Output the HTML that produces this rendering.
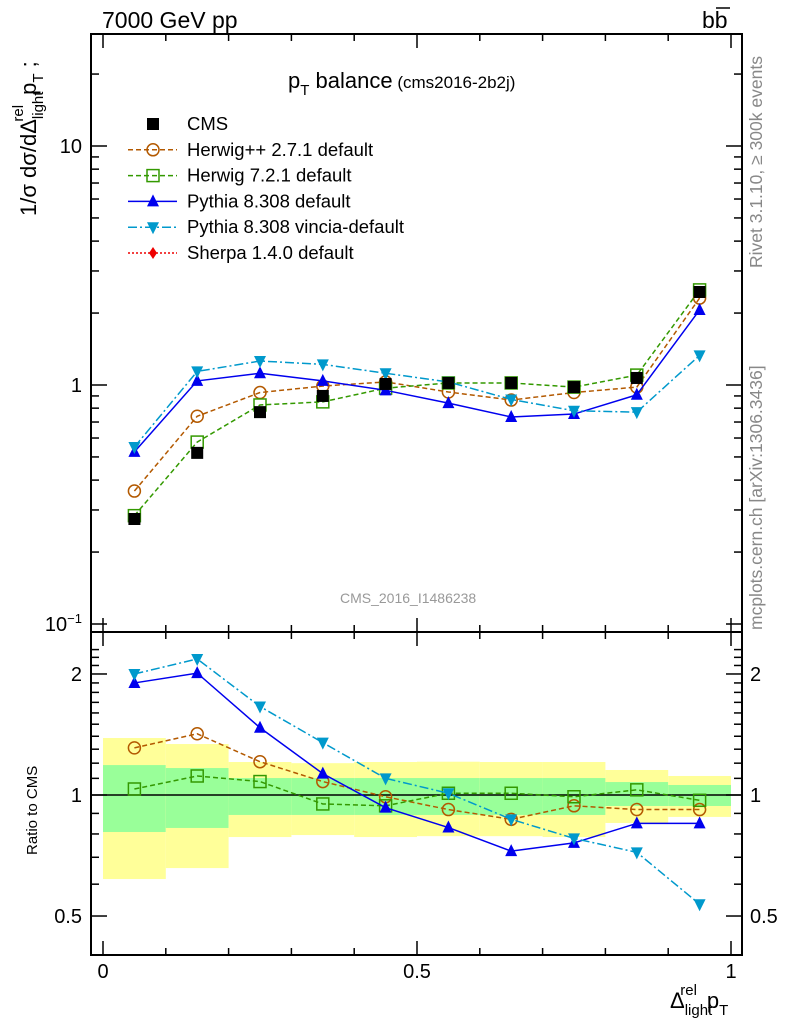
<!DOCTYPE html>
<html><head><meta charset="utf-8"><style>
body{margin:0;background:#fff;}
svg{display:block;font-family:"Liberation Sans",sans-serif;}
</style></head><body>
<svg id="c" width="786" height="1024" viewBox="0 0 786 1024">
<g id="bands"></g>
<g id="ticks"></g>
<g id="series"></g>
<rect x="91" y="34" width="651" height="598" fill="none" stroke="#000" stroke-width="2"/>
<rect x="91" y="632" width="651" height="323" fill="none" stroke="#000" stroke-width="2"/>
<text x="102" y="28" font-size="23">7000 GeV pp</text>
<text x="702" y="28" font-size="23">bb</text>
<line x1="716" y1="8" x2="730" y2="8" stroke="#000" stroke-width="1.5"/>
<text x="288" y="88" font-size="22">p<tspan font-size="15" dy="7">T</tspan><tspan dy="-7"> balance</tspan><tspan font-size="17"> (cms2016-2b2j)</tspan></text>
<text x="340" y="603" font-size="14" fill="#999">CMS_2016_I1486238</text>
<text transform="translate(762,268) rotate(-90)" font-size="17.5" fill="#888">Rivet 3.1.10, ≥ 300k events</text>
<text transform="translate(762,630) rotate(-90)" font-size="17.5" fill="#888">mcplots.cern.ch [arXiv:1306.3436]</text>
<text transform="translate(36,216) rotate(-90)" font-size="22">1/σ dσ/dΔ<tspan font-size="15" dy="7">light</tspan><tspan font-size="15" dy="-20" dx="-30">rel</tspan><tspan dy="13" dx="10">p</tspan><tspan font-size="15" dy="7">T</tspan><tspan dy="-7"> ;</tspan></text>
<text transform="translate(37,855) rotate(-90)" font-size="15">Ratio to CMS</text>
<text x="670" y="1008" font-size="22">Δ<tspan font-size="15" dy="7">light</tspan><tspan font-size="15" dy="-20" dx="-32">rel</tspan><tspan dy="13" dx="10">p</tspan><tspan font-size="15" dy="7">T</tspan></text>
<g id="legend"></g>
</svg>
<script>
const xEdges=[0,0.1,0.2,0.3,0.4,0.5,0.6,0.7,0.8,0.9,1.0];
const xCenters=[0.05,0.15,0.25,0.35,0.45,0.55,0.65,0.75,0.85,0.95];
const cmsVals=[0.275,0.52,0.77,0.90,1.01,1.02,1.02,0.98,1.07,2.45];
const herwigppVals=[0.36,0.74,0.93,0.99,1.03,0.935,0.865,0.93,0.98,2.31];
const herwig7Vals=[0.284,0.577,0.825,0.85,0.97,1.02,1.02,0.98,1.10,2.5];
const pythiaVals=[0.525,1.04,1.12,1.04,0.95,0.84,0.735,0.756,0.91,2.06];
const vinciaVals=[0.55,1.14,1.26,1.22,1.12,1.03,0.87,0.78,0.77,1.33];
const herwigppRatio=[1.31,1.42,1.21,1.08,0.99,0.92,0.87,0.94,0.92,0.92];
const herwig7Ratio=[1.035,1.115,1.08,0.95,0.94,1.01,1.01,0.99,1.03,0.97];
const pythiaRatio=[1.90,2.01,1.47,1.13,0.93,0.83,0.725,0.76,0.85,0.85];
const vinciaRatio=[2.0,2.18,1.66,1.35,1.10,1.01,0.87,0.78,0.72,0.535];
const totUp=[1.386,1.339,1.208,1.20,1.208,1.21,1.208,1.208,1.154,1.115];
const totDn=[0.618,0.658,0.786,0.795,0.786,0.79,0.79,0.786,0.852,0.882];
const statUp=[1.187,1.167,1.102,1.102,1.102,1.102,1.102,1.102,1.077,1.059];
const statDn=[0.809,0.828,0.892,0.892,0.892,0.892,0.892,0.892,0.939,0.939];
const xTicks=[0,0.5,1];
const xTickLabels=["0","0.5","1"];
const ratioTicks=[0.5,1,2];
const ratioTickLabels=["0.5","1","2"];

const NS="http://www.w3.org/2000/svg";
const X=v=>103+628*v;
const Y=v=>385-239*Math.log10(v);
const R=v=>795-402*Math.log10(v);
function mk(p,t,a){const e=document.createElementNS(NS,t);for(const k in a)e.setAttribute(k,a[k]);p.appendChild(e);return e;}
const bands=document.getElementById('bands'),ticks=document.getElementById('ticks'),ser=document.getElementById('series'),leg=document.getElementById('legend');
for(let i=0;i<10;i++){
 let r=mk(bands,'rect',{x:X(xEdges[i]),y:R(totUp[i]),width:X(xEdges[i+1])-X(xEdges[i]),height:R(totDn[i])-R(totUp[i]),fill:'#ffff99'});
 
 let g=mk(bands,'rect',{x:X(xEdges[i]),y:R(statUp[i]),width:X(xEdges[i+1])-X(xEdges[i]),height:R(statDn[i])-R(statUp[i]),fill:'#99ff99'});
 
}
mk(bands,'line',{x1:91,x2:742,y1:R(1),y2:R(1),stroke:'#000','stroke-width':1.5});
for(let k=0;k<=20;k++){const v=k*0.05;const maj=(k%10==0);const L=maj?14:7;
 if(k%2) continue;
 for(const [yb,dir] of [[632,-1],[34,1],[955,-1],[632,1]]){mk(ticks,'line',{x1:X(v),x2:X(v),y1:yb,y2:yb+dir*L,stroke:'#000','stroke-width':1.5});}}
xTicks.forEach((v,i)=>{const t=mk(ticks,'text',{x:X(v),y:978,'font-size':20,'text-anchor':'middle'});t.textContent=xTickLabels[i];
 });
for(let d=-1;d<=1;d++)for(let m=1;m<=9;m++){const v=m*Math.pow(10,d);const y=Y(v);if(y<34||y>632)continue;const L=m==1?16:8;
 mk(ticks,'line',{x1:91,x2:91+L,y1:y,y2:y,stroke:'#000','stroke-width':1.5});mk(ticks,'line',{x1:742,x2:742-L,y1:y,y2:y,stroke:'#000','stroke-width':1.5});}
[[10,"10"],[1,"1"]].forEach(([v,s])=>{const t=mk(ticks,'text',{x:82,y:Y(v)+7,'font-size':20,'text-anchor':'end'});t.textContent=s;
 });
{const t=mk(ticks,'text',{x:82,y:Y(0.1)+7,'font-size':20,'text-anchor':'end'});t.innerHTML='10<tspan font-size="13" dy="-8">−1</tspan>';
 }
for(let k=4;k<=23;k++){const v=k/10;const y=R(v);if(y<634||y>953)continue;const maj=(v==0.5||v==1||v==2);const L=maj?16:8;
 mk(ticks,'line',{x1:91,x2:91+L,y1:y,y2:y,stroke:'#000','stroke-width':1.5});mk(ticks,'line',{x1:742,x2:742-L,y1:y,y2:y,stroke:'#000','stroke-width':1.5});}
ratioTicks.forEach((v,i)=>{for(const [x,a] of [[82,'end'],[750,'start']]){const t=mk(ticks,'text',{x:x,y:R(v)+7,'font-size':20,'text-anchor':a});t.textContent=ratioTickLabels[i];
 }});

function marker(g,type,x,y,c){
 if(type=='sq') return mk(g,'rect',{x:x-6,y:y-6,width:12,height:12,fill:'#000'});
 if(type=='osq') return mk(g,'rect',{x:x-6,y:y-6,width:12,height:12,fill:'none',stroke:c,'stroke-width':1.5});
 if(type=='oc') return mk(g,'circle',{cx:x,cy:y,r:6,fill:'none',stroke:c,'stroke-width':1.5});
 if(type=='tu') return mk(g,'path',{d:`M${x},${y-7}L${x+6},${y+5}L${x-6},${y+5}Z`,fill:c});
 if(type=='td') return mk(g,'path',{d:`M${x},${y+7}L${x+6},${y-5}L${x-6},${y-5}Z`,fill:c});
 if(type=='di') return mk(g,'path',{d:`M${x},${y-6}L${x+4},${y}L${x},${y+6}L${x-4},${y}Z`,fill:c});
}
const specs=[
 {name:'herwigpp',main:herwigppVals,ratio:herwigppRatio,c:'#b35900',m:'oc',dash:'5,3'},
 {name:'herwig7',main:herwig7Vals,ratio:herwig7Ratio,c:'#339900',m:'osq',dash:'5,3'},
 {name:'pythia',main:pythiaVals,ratio:pythiaRatio,c:'#0000ee',m:'tu',dash:''},
 {name:'vincia',main:vinciaVals,ratio:vinciaRatio,c:'#0099cc',m:'td',dash:'9,3,2,3'}];
specs.forEach(s=>{
 const g=mk(ser,'g',{});
 const pm=xCenters.map((x,i)=>X(x)+','+Y(s.main[i])).join(' ');
 mk(g,'polyline',{points:pm,fill:'none',stroke:s.c,'stroke-width':1.5,'stroke-dasharray':s.dash});
 const pr=xCenters.map((x,i)=>X(x)+','+R(s.ratio[i])).join(' ');
 mk(g,'polyline',{points:pr,fill:'none',stroke:s.c,'stroke-width':1.5,'stroke-dasharray':s.dash});
 xCenters.forEach((x,i)=>{const a=marker(g,s.m,X(x),Y(s.main[i]),s.c);
  const b=marker(g,s.m,X(x),R(s.ratio[i]),s.c);});
});
{const g=mk(ser,'g',{});
 xCenters.forEach((x,i)=>{const a=marker(g,'sq',X(x),Y(cmsVals[i]),'#000');});}
const legItems=[['CMS','sq','#000',null],['Herwig++ 2.7.1 default','oc','#b35900','5,3'],['Herwig 7.2.1 default','osq','#339900','5,3'],
 ['Pythia 8.308 default','tu','#0000ee',''],['Pythia 8.308 vincia-default','td','#0099cc','9,3,2,3'],['Sherpa 1.4.0 default','di','#ee0000','2,2']];
legItems.forEach((it,i)=>{const y=124+i*25.8;const g=mk(leg,'g',{});
 if(it[3]!==null) mk(g,'line',{x1:128,x2:177,y1:y,y2:y,stroke:it[2],'stroke-width':1.5,'stroke-dasharray':it[3]});
 marker(g,it[1],153,y,it[2]);
 const t=mk(g,'text',{x:187,y:y+6,'font-size':18.5});t.textContent=it[0];});
</script>
</body></html>
